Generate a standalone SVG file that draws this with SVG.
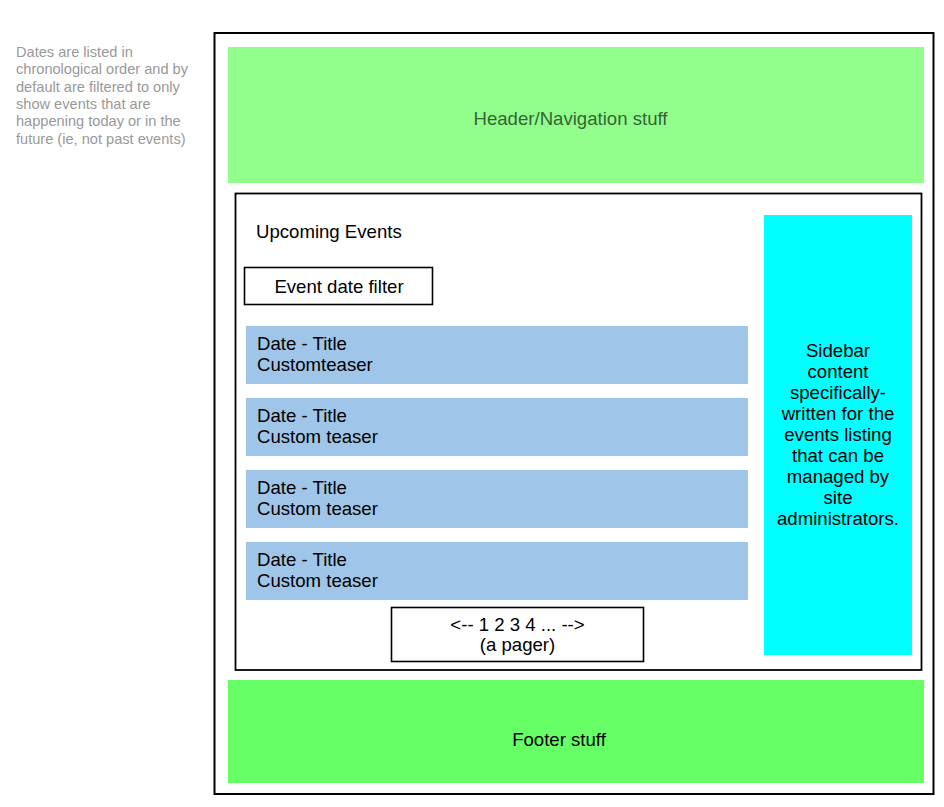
<svg xmlns="http://www.w3.org/2000/svg" width="944" height="807" viewBox="0 0 944 807">
<style>
text{font-family:"Liberation Sans",Arial,sans-serif;font-size:18.6px;fill:#000}
.note{font-size:14.6px;fill:#999999}
.box{fill:#fff;stroke:#000;stroke-width:1.6}
.row{fill:#9FC5E8}
.c{text-anchor:middle}
</style>
<rect width="944" height="807" fill="#fff"/>
<g id="note">
<text class="note" x="16" y="57">Dates are listed in</text>
<text class="note" x="16" y="74.3">chronological order and by</text>
<text class="note" x="16" y="91.6">default are filtered to only</text>
<text class="note" x="16" y="108.9">show events that are</text>
<text class="note" x="16" y="126.2">happening today or in the</text>
<text class="note" x="16" y="143.5">future (ie, not past events)</text>
</g>
<g id="page">
<rect x="214.5" y="33" width="719" height="761" fill="#fff" stroke="#000" stroke-width="2"/>
</g>
<g id="header">
<rect x="228" y="47" width="696" height="136" fill="#92FF8C"/>
<text class="c" x="570.5" y="125" style="fill:#336633">Header/Navigation stuff</text>
</g>
<g id="content">
<rect x="235.5" y="193.5" width="686" height="476.5" fill="#fff" stroke="#000" stroke-width="1.8"/>
<text x="256" y="238">Upcoming Events</text>
</g>
<g id="filter">
<rect class="box" x="244.5" y="267.5" width="188" height="37"/>
<text class="c" x="339" y="292.5">Event date filter</text>
</g>
<g id="event1">
<rect class="row" x="246" y="326" width="502" height="58"/>
<text x="257" y="350">Date - Title</text>
<text x="257" y="371">Customteaser</text>
</g>
<g id="event2">
<rect class="row" x="246" y="398" width="502" height="58"/>
<text x="257" y="422">Date - Title</text>
<text x="257" y="443">Custom teaser</text>
</g>
<g id="event3">
<rect class="row" x="246" y="470" width="502" height="58"/>
<text x="257" y="494">Date - Title</text>
<text x="257" y="515">Custom teaser</text>
</g>
<g id="event4">
<rect class="row" x="246" y="542" width="502" height="58"/>
<text x="257" y="566">Date - Title</text>
<text x="257" y="587">Custom teaser</text>
</g>
<g id="pager">
<rect class="box" x="391.5" y="607.5" width="252" height="54"/>
<text class="c" x="517.5" y="630.5">&lt;-- 1 2 3 4 ... --&gt;</text>
<text class="c" x="517.5" y="651">(a pager)</text>
</g>
<g id="sidebar">
<rect x="764" y="215" width="148" height="440" fill="#00FFFF"/>
<text class="c" x="838" y="357">Sidebar</text>
<text class="c" x="838" y="378">content</text>
<text class="c" x="838" y="399">specifically-</text>
<text class="c" x="838" y="420">written for the</text>
<text class="c" x="838" y="441">events listing</text>
<text class="c" x="838" y="462">that can be</text>
<text class="c" x="838" y="483">managed by</text>
<text class="c" x="838" y="504">site</text>
<text class="c" x="838" y="525">administrators.</text>
</g>
<g id="footer">
<rect x="228" y="680" width="696" height="103" fill="#66FF66"/>
<text class="c" x="559" y="746">Footer stuff</text>
</g>
<g id="connectors"></g>
</svg>
